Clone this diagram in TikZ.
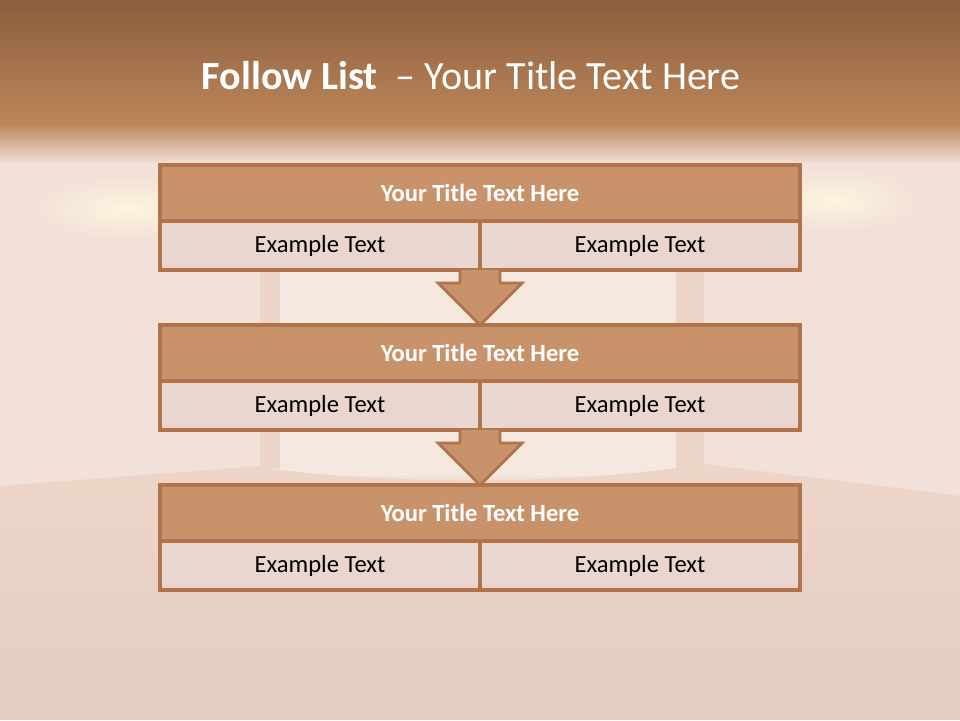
\documentclass[tikz,border=0pt]{standalone}
\usepackage{fontspec}
\setmainfont{Carlito}
\usetikzlibrary{positioning,calc}
\definecolor{ceiling}{HTML}{8A5E3E}
\definecolor{ceilinglow}{HTML}{BD8659}
\definecolor{wall}{HTML}{F2E1D8}
\definecolor{backwall}{HTML}{F5E8E1}
\definecolor{pillar}{HTML}{ECD4C8}
\definecolor{floortop}{HTML}{EDD5C8}
\definecolor{floorbot}{HTML}{E3CCC1}
\definecolor{glow}{HTML}{FDF4DE}
\definecolor{boxline}{HTML}{B0734A}
\definecolor{barfill}{HTML}{C8926B}
\definecolor{cellfill}{HTML}{E9D6CE}
\tikzset{
    titlebar/.style={
        rectangle,
        draw=boxline,
        fill=barfill,
        line width=2.5pt,
        outer sep=0pt,
        minimum width=16cm,
        minimum height=1.4cm,
        text=white,
        font=\fontsize{17.5}{21}\selectfont\bfseries
    },
    cell/.style={
        rectangle,
        draw=boxline,
        fill=cellfill,
        line width=2.5pt,
        outer sep=0pt,
        minimum width=8cm,
        minimum height=1.225cm,
        font=\fontsize{17.5}{21}\selectfont
    },
    flowarrow/.style={
        draw=boxline,
        fill=barfill,
        line width=2pt,
        line join=miter
    }
}

\begin{document}
\begin{tikzpicture}
        % Room in the background
        \useasboundingbox (0,0) rectangle (24,-18);
        \fill[wall] (0,0) rectangle (24,-18);
        \fill[backwall] (7,-3.6) rectangle (16.9,-11.9);
        \fill[pillar] (6.5,-3.6) rectangle (7,-11.7);
        \fill[pillar] (16.9,-3.6) rectangle (17.6,-11.7);
        \shade[top color=floortop, bottom color=floorbot] (0,-12.15) -- (6.5,-11.65) -- (7,-11.75) .. controls (10,-12.1) and (14,-12.1) .. (16.9,-11.7) -- (17.6,-11.6) -- (24,-12.4) -- (24,-18) -- (0,-18) -- cycle;
        \shade[inner color=glow, outer color=wall] (3.2,-5.2) ellipse (2.4 and 0.8);
        \shade[inner color=glow, outer color=wall] (20.8,-5.0) ellipse (2.2 and 0.8);
        \shade[top color=ceiling, bottom color=ceilinglow] (0,0) rectangle (24,-3.1);
        \shade[top color=ceilinglow, bottom color=wall] (0,-3.1) rectangle (24,-4.1);

        % Heading
        \node (heading) at (11.78,-1.9) [text=white, font=\fontsize{28.5}{34}\selectfont] {\textbf{Follow List}\ \ – Your Title Text Here};

        % First block
        \node (t1) [titlebar] at (12,-4.825) {Your Title Text Here};
        \node (c1a) [cell, below right=0cm and 0cm of t1.south west] {Example Text};
        \node (c1b) [cell, right=0cm of c1a] {Example Text};

        % Second block
        \node (t2) [titlebar, below=2.6cm of t1] {Your Title Text Here};
        \node (c2a) [cell, below right=0cm and 0cm of t2.south west] {Example Text};
        \node (c2b) [cell, right=0cm of c2a] {Example Text};

        % Third block
        \node (t3) [titlebar, below=2.6cm of t2] {Your Title Text Here};
        \node (c3a) [cell, below right=0cm and 0cm of t3.south west] {Example Text};
        \node (c3b) [cell, right=0cm of c3a] {Example Text};

        % Arrows
        \draw[flowarrow] ([xshift=-0.5cm]c1a.south east) |- ($(t2.north)+(-1.05,1.05)$) -- (t2.north) -- ++(1.05,1.05) -| ([xshift=0.5cm]c1a.south east);
        \draw[flowarrow] ([xshift=-0.5cm]c2a.south east) |- ($(t3.north)+(-1.05,1.05)$) -- (t3.north) -- ++(1.05,1.05) -| ([xshift=0.5cm]c2a.south east);
\end{tikzpicture}
\end{document}
